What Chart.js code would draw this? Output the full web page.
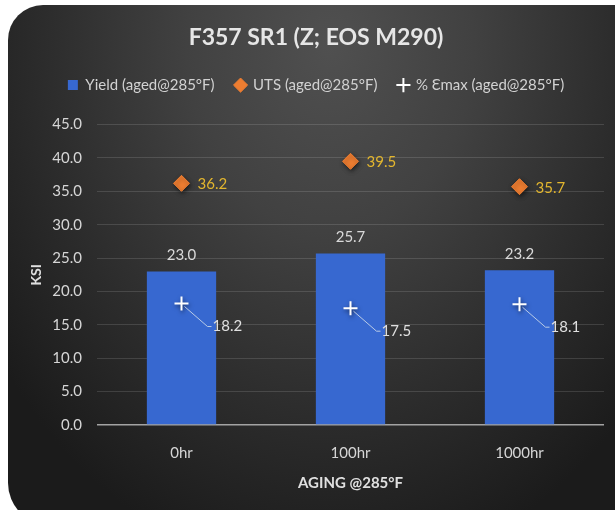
<!DOCTYPE html>
<html>
<head>
<meta charset="utf-8">
<script src="https://cdn.jsdelivr.net/npm/chart.js@4.4.1/dist/chart.umd.min.js"></script>
<style>
  html, body { margin: 0; padding: 0; background: #ffffff; }
  canvas { display: block; }
</style>
</head>
<body>
<canvas id="chart" width="615" height="510"></canvas>
<script>
// Aging condition for each group of marks
const categories = ['0hr', '100hr', '1000hr'];
// Yield strength, ksi
const yieldKsi = [23.0, 25.7, 23.2];
// Ultimate tensile strength, ksi
const utsKsi = [36.2, 39.5, 35.7];
// Elongation at max, %
const emaxPct = [18.2, 17.5, 18.1];
// Value axis ticks
const yTickValues = [0, 5, 10, 15, 20, 25, 30, 35, 40, 45];

const seriesNames = ['Yield (aged@285°F)', 'UTS (aged@285°F)', '% Ɛmax (aged@285°F)'];
const chartTitle = 'F357 SR1 (Z; EOS M290)';
const xTitle = 'AGING @285°F';
const yTitle = 'KSI';

const FONT = 'Lato, "Open Sans", sans-serif';

// Dark rounded card behind the whole chart
const cardBackground = {
  id: 'cardBackground',
  beforeDraw(chart) {
    const { ctx, width, height } = chart;
    ctx.save();
    ctx.fillStyle = '#ffffff';
    ctx.fillRect(0, 0, width, height);
    const x0 = 8, y0 = 5, x1 = width + 40, y1 = height + 15;
    const rTL = 35, rBL = 42;
    ctx.beginPath();
    ctx.moveTo(x0 + rTL, y0);
    ctx.lineTo(x1, y0);
    ctx.lineTo(x1, y1);
    ctx.lineTo(x0 + rBL, y1);
    ctx.arcTo(x0, y1, x0, y1 - rBL, rBL);
    ctx.lineTo(x0, y0 + rTL);
    ctx.arcTo(x0, y0, x0 + rTL, y0, rTL);
    ctx.closePath();
    ctx.clip();
    ctx.translate(330, 45);
    ctx.scale(1, 1.3);
    const g = ctx.createRadialGradient(0, 0, 0, 0, 0, 410);
    g.addColorStop(0, '#505050');
    g.addColorStop(0.35, '#414141');
    g.addColorStop(0.7, '#2c2c2c');
    g.addColorStop(1, '#1b1b1b');
    ctx.fillStyle = g;
    ctx.fillRect(-400, -60, 900, 500);
    ctx.restore();
  }
};

// Soft shadow under the marker series
const markerShadow = {
  id: 'markerShadow',
  beforeDatasetDraw(chart, args) {
    if (args.index === 0) return;
    const ctx = chart.ctx;
    ctx.save();
    ctx.shadowColor = 'rgba(0,0,0,0.55)';
    ctx.shadowBlur = 4;
    ctx.shadowOffsetX = 1;
    ctx.shadowOffsetY = 2;
  },
  afterDatasetDraw(chart, args) {
    if (args.index === 0) return;
    chart.ctx.restore();
  }
};

// Value labels for each series
const valueLabels = {
  id: 'valueLabels',
  afterDatasetsDraw(chart) {
    const ctx = chart.ctx;
    ctx.save();
    ctx.font = '15px ' + FONT;
    ctx.textBaseline = 'middle';

    chart.getDatasetMeta(0).data.forEach((bar, i) => {
      ctx.fillStyle = '#d9d9d9';
      ctx.textAlign = 'center';
      ctx.fillText(yieldKsi[i].toFixed(1), bar.x, bar.y - 16);
    });

    chart.getDatasetMeta(1).data.forEach((pt, i) => {
      ctx.fillStyle = '#e3b62e';
      ctx.textAlign = 'left';
      ctx.fillText(utsKsi[i].toFixed(1), pt.x + 16, pt.y + 1);
    });

    chart.getDatasetMeta(2).data.forEach((pt, i) => {
      ctx.strokeStyle = '#b9cbe6';
      ctx.lineWidth = 1;
      ctx.beginPath();
      ctx.moveTo(pt.x + 3, pt.y + 3);
      ctx.lineTo(pt.x + 26, pt.y + 23);
      ctx.lineTo(pt.x + 30, pt.y + 23);
      ctx.stroke();
      ctx.fillStyle = '#e0e0e0';
      ctx.textAlign = 'left';
      ctx.fillText(emaxPct[i].toFixed(1), pt.x + 31, pt.y + 23);
    });
    ctx.restore();
  }
};

// Extra room between the legend and the plot
const legendGap = {
  id: 'legendGap',
  beforeInit(chart) {
    const origFit = chart.legend.fit;
    chart.legend.fit = function fit() {
      origFit.bind(chart.legend)();
      this.height += 22;
    };
  }
};

new Chart(document.getElementById('chart'), {
  type: 'bar',
  data: {
    labels: categories,
    datasets: [
      {
        type: 'bar',
        label: seriesNames[0],
        data: yieldKsi,
        backgroundColor: '#3768d0',
        borderWidth: 0,
        pointStyle: 'rect',
        categoryPercentage: 1,
        barPercentage: 0.41,
        order: 3
      },
      {
        type: 'line',
        label: seriesNames[1],
        data: utsKsi,
        showLine: false,
        pointStyle: 'rectRot',
        pointRadius: 8,
        pointHoverRadius: 8,
        backgroundColor: '#ed7d31',
        borderColor: '#ed7d31',
        borderWidth: 1,
        order: 2
      },
      {
        type: 'line',
        label: seriesNames[2],
        data: emaxPct,
        showLine: false,
        pointStyle: 'cross',
        pointRadius: 7,
        pointHoverRadius: 7,
        backgroundColor: '#ffffff',
        borderColor: '#ffffff',
        borderWidth: 2,
        order: 1
      }
    ]
  },
  options: {
    responsive: false,
    animation: false,
    devicePixelRatio: 1,
    layout: { padding: { left: 28, right: 11, top: 0, bottom: 18 } },
    plugins: {
      title: {
        display: true,
        text: chartTitle,
        color: '#e6e6e6',
        font: { family: FONT, size: 23, weight: 'bold' },
        padding: { top: 24, bottom: 5 }
      },
      legend: {
        display: true,
        labels: {
          color: '#d2d2d2',
          font: { family: FONT, size: 15 },
          usePointStyle: true,
          boxWidth: 10,
          boxHeight: 10,
          padding: 21,
          sort: (a, b) => a.datasetIndex - b.datasetIndex
        }
      },
      tooltip: { enabled: false }
    },
    scales: {
      x: {
        grid: { display: false },
        border: { display: false },
        ticks: { color: '#d6d6d6', font: { family: FONT, size: 15 }, padding: 11 },
        title: {
          display: true,
          text: xTitle,
          color: '#e0e0e0',
          font: { family: FONT, size: 15, weight: 'bold' },
          padding: { top: 0, bottom: 0 }
        },
        afterFit(scale) { scale.height = 67; }
      },
      y: {
        min: 0,
        max: 45,
        afterBuildTicks(scale) { scale.ticks = yTickValues.map(v => ({ value: v })); },
        grid: {
          drawTicks: false,
          color: ctx => (ctx.tick && ctx.tick.value === 0) ? '#a3a3a3' : 'rgba(255,255,255,0.13)',
          lineWidth: ctx => (ctx.tick && ctx.tick.value === 0) ? 1.5 : 1
        },
        border: { display: false },
        ticks: {
          color: '#d6d6d6',
          font: { family: FONT, size: 15 },
          padding: 15,
          callback: v => Number(v).toFixed(1)
        },
        title: {
          display: true,
          text: yTitle,
          color: '#e0e0e0',
          font: { family: FONT, size: 14, weight: 'bold' },
          padding: { top: 0, bottom: 0 }
        },
        afterFit(scale) { scale.width = 69; }
      }
    }
  },
  plugins: [cardBackground, markerShadow, valueLabels, legendGap]
});
</script>
</body>
</html>
